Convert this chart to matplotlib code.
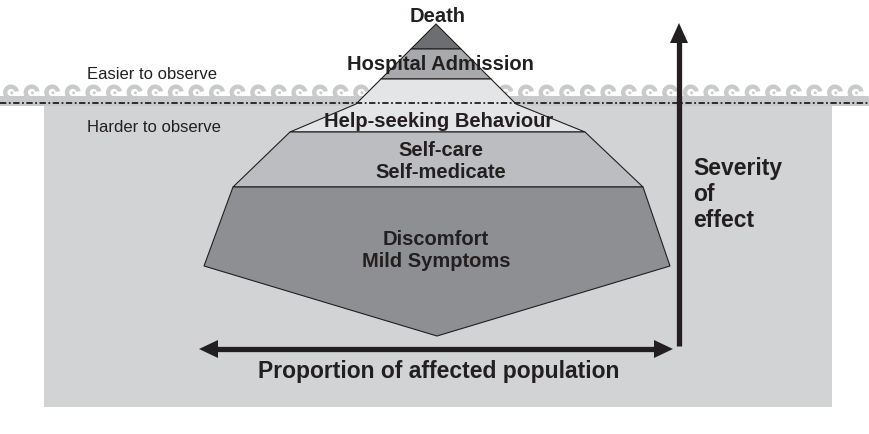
import numpy as np
import matplotlib.pyplot as plt
from matplotlib.patches import Polygon, Rectangle

# layer labels, top to bottom
layer_labels = ["Death", "Hospital Admission", "Help-seeking Behaviour",
                "Self-care\nSelf-medicate", "Discomfort\nMild Symptoms"]
layer_colors = ["#6d6e71", "#a7a9ac", "#e4e5e6", "#bcbdc0", "#8e8f92"]

# iceberg outline (pixel coords, y down)
death_poly = [(436, 25), (461, 50), (411, 50)]
hospital_poly = [(411, 50), (461, 50), (491, 80), (381, 80)]
help_poly = [(381, 80), (491, 80), (516, 105), (585, 133), (290, 133), (356, 105)]
selfcare_poly = [(290, 133), (585, 133), (643, 188), (233, 188)]
discomfort_poly = [(233, 188), (643, 188), (670, 267), (437, 337), (204, 267)]
layer_polys = [death_poly, hospital_poly, help_poly, selfcare_poly, discomfort_poly]

# label anchors (x centre, baseline of each line)
label_x = [438, 440, 439, 441, 436]
label_baselines = [[22], [70], [127], [156, 178], [245, 267]]

W, H = 869, 435
water_y = 104

fig = plt.figure(figsize=(W / 100, H / 100), dpi=100)
ax = fig.add_axes([0, 0, 1, 1])
ax.set_xlim(0, W)
ax.set_ylim(H, 0)
ax.axis('off')

bg = "#d1d3d4"
wave_c = "#c9cacc"

# under water block
ax.add_patch(Rectangle((44, 106), 788, 302, fc=bg, ec='none', zorder=1))
# wave stripe
ax.add_patch(Rectangle((0, 97), W, 10, fc=wave_c, ec='none', zorder=1))

# waves - "C" shaped curls, open to the lower right
th = np.radians(np.linspace(10, 300, 40))
for cx in np.arange(11, W, 20.6):
    cy, r1, r2 = 93.5, 8.0, 3.6
    outer = np.c_[cx + r1 * np.cos(th), cy - r1 * np.sin(th)]
    inner = np.c_[cx + r2 * np.cos(th[::-1]), cy - r2 * np.sin(th[::-1])]
    ax.add_patch(Polygon(np.vstack([outer, inner]), closed=True, fc=wave_c, ec='none', zorder=1))
    ax.add_patch(plt.Circle((cx + 0.8, cy + 0.3), 1.5, fc=wave_c, ec='none', zorder=1))

# iceberg layers
for poly, col in zip(layer_polys, layer_colors):
    ax.add_patch(Polygon(poly, closed=True, fc=col, ec='#231f20', lw=0.8, zorder=2))

# water line
ax.plot([0, W], [water_y, water_y], color='#231f20', lw=1.3,
        linestyle=(0, (3.5, 1.4, 1.0, 1.4)), zorder=3)

font = ['Liberation Sans', 'DejaVu Sans']
for lab, x, bls in zip(layer_labels, label_x, label_baselines):
    for line, yb in zip(lab.split("\n"), bls):
        ax.text(x, yb, line, ha='center', va='baseline', fontsize=14.5,
                fontweight='bold', color='#231f20', family=font, zorder=4)

ax.text(87, 79, "Easier to observe", ha='left', va='baseline', fontsize=12,
        color='#231f20', family=font, zorder=4)
ax.text(87, 132, "Harder to observe", ha='left', va='baseline', fontsize=12,
        color='#231f20', family=font, zorder=4)

# severity arrow (vertical)
ax.plot([679, 679], [347, 40], color='#231f20', lw=3.8, solid_capstyle='butt', zorder=4)
ax.add_patch(Polygon([(679, 24), (688, 44), (670, 44)], closed=True, fc='#231f20', ec='none', zorder=4))
for yb, line in zip([175, 201, 227], ["Severity", "of", "effect"]):
    ax.text(693, yb, line, ha='left', va='baseline', fontsize=16.5,
            fontweight='bold', color='#231f20', family=font, zorder=4)

# population arrow (horizontal, double headed)
ax.plot([214, 658], [350, 350], color='#231f20', lw=3.8, solid_capstyle='butt', zorder=4)
ax.add_patch(Polygon([(199, 350), (218, 341), (218, 359)], closed=True, fc='#231f20', ec='none', zorder=4))
ax.add_patch(Polygon([(673, 350), (654, 341), (654, 359)], closed=True, fc='#231f20', ec='none', zorder=4))
ax.text(439, 378, "Proportion of affected population", ha='center', va='baseline',
        fontsize=16.5, fontweight='bold', color='#231f20', family=font, zorder=4)

fig.savefig('out.png', dpi=100, facecolor='white')
